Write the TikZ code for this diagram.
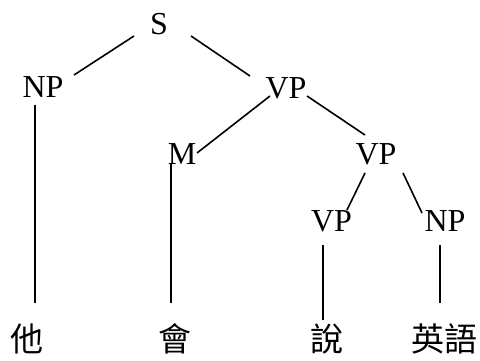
\documentclass[tikz,border=0pt]{standalone}
\usepackage{fontspec}
\setmainfont{Liberation Serif}
\newfontfamily\cjkfont{Noto Sans CJK TC}
\usetikzlibrary{calc}
\begin{document}
\begin{tikzpicture}[x=1pt,y=-1pt,
  cat/.style={inner sep=0pt, font=\fontsize{32}{36}\selectfont},
  word/.style={inner sep=0pt, font=\cjkfont\fontsize{33}{36}\selectfont},
  branch/.style={line width=1.6pt, black}]
\useasboundingbox (0,0) rectangle (480,361);

% category labels
\node[cat] (S)   at (159,24)    {S};
\node[cat] (NPa) at (43,87.5)   {NP};
\node[cat] (VPa) at (286,88)    {VP};
\node[cat] (M)   at (182,154)   {M};
\node[cat] (VPb) at (376,154)   {VP};
\node[cat] (VPc) at (331.5,221) {VP};
\node[cat] (NPb) at (445,221)   {NP};

% words
\node[word] (ta)    at (27,339)  {他};
\node[word] (hui)   at (175,339) {會};
\node[word] (shuo)  at (327,339) {說};
\node[word] (yingyu) at (444,339) {英語};

% branches
\draw[branch] ($(S)+(-25,12)$)   -- ($(NPa)+(31,-12.5)$);
\draw[branch] ($(S)+(32,12)$)    -- ($(VPa)+(-36,-12)$);
\draw[branch] ($(VPa)+(-16,8)$)  -- ($(M)+(15,-1)$);
\draw[branch] ($(VPa)+(21,8)$)   -- ($(VPb)+(-11,-19)$);
\draw[branch] ($(VPb)+(-11,19)$) -- ($(VPc)+(15.5,-11)$);
\draw[branch] ($(VPb)+(27,19)$)  -- ($(NPb)+(-23,-8)$);

% terminal branches
\draw[branch] ($(NPa)+(-8,17.5)$) -- ($(ta)+(8,-36)$);
\draw[branch] ($(M)+(-11,9)$)     -- ($(hui)+(-4,-36)$);
\draw[branch] ($(VPc)+(-8.5,24)$) -- ($(shuo)+(-4,-19)$);
\draw[branch] ($(NPb)+(-5,24)$)   -- ($(yingyu)+(-4,-36)$);
\end{tikzpicture}
\end{document}
